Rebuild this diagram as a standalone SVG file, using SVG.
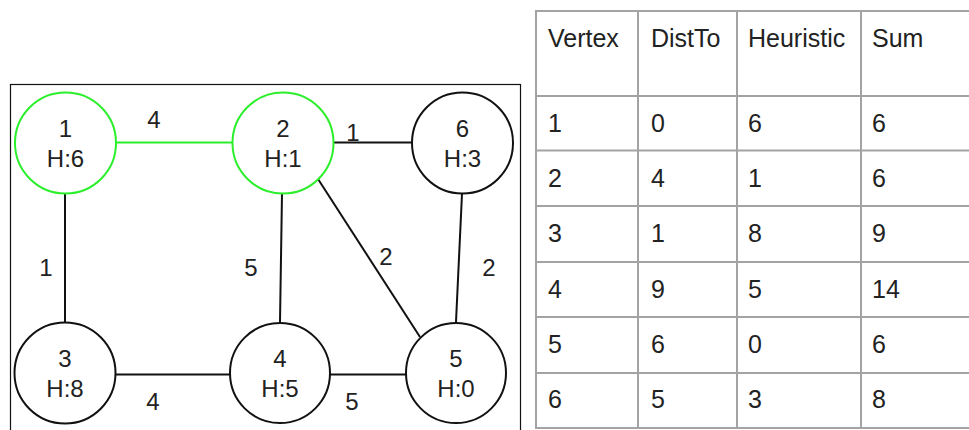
<svg xmlns="http://www.w3.org/2000/svg" width="969" height="430" viewBox="0 0 969 430">
  <style>
    .frame { fill: none; stroke: #111; stroke-width: 1.2; }
    .node circle { fill: #fff; stroke: #111; stroke-width: 2; }
    .node.visited circle { stroke: #2bef2b; }
    .edge { stroke: #111; stroke-width: 2; fill: none; }
    .edge.visited { stroke: #2bef2b; }
    text { font-family: "Liberation Sans", Arial, sans-serif; font-size: 24px; fill: #222; }
    .node text, .weight { text-anchor: middle; }
    #table text { font-size: 25px; }
    .grid line { stroke: #a3a3a3; stroke-width: 2; }
  </style>

  <!-- graph frame -->
  <rect class="frame" x="10.5" y="84.5" width="510" height="360"/>

  <!-- connectors -->
  <g id="edges">
    <line class="edge visited" x1="116" y1="142.5" x2="233" y2="142.5"/>
    <line class="edge" x1="333" y1="142.5" x2="412" y2="142.5"/>
    <line class="edge" x1="65" y1="194" x2="65" y2="322"/>
    <line class="edge" x1="282" y1="194" x2="280" y2="322"/>
    <line class="edge" x1="318" y1="179" x2="420" y2="337"/>
    <line class="edge" x1="462" y1="194" x2="456" y2="322"/>
    <line class="edge" x1="115" y1="374.5" x2="230" y2="374.5"/>
    <line class="edge" x1="330" y1="374.5" x2="406" y2="374.5"/>

    <text class="weight" x="154" y="128">4</text>
    <text class="weight" x="353" y="141">1</text>
    <text class="weight" x="46" y="276">1</text>
    <text class="weight" x="251" y="276">5</text>
    <text class="weight" x="386" y="265">2</text>
    <text class="weight" x="489" y="276">2</text>
    <text class="weight" x="153" y="410">4</text>
    <text class="weight" x="352" y="410">5</text>
  </g>

  <!-- vertices -->
  <g id="node-1" class="node visited">
    <circle cx="65.5" cy="143" r="50.5"/>
    <text x="65.5" y="137">1</text>
    <text x="65.5" y="167">H:6</text>
  </g>
  <g id="node-2" class="node visited">
    <circle cx="283" cy="143" r="50.5"/>
    <text x="283" y="137">2</text>
    <text x="283" y="167">H:1</text>
  </g>
  <g id="node-6" class="node">
    <circle cx="462.5" cy="143" r="50.5"/>
    <text x="462.5" y="137">6</text>
    <text x="462.5" y="167">H:3</text>
  </g>
  <g id="node-3" class="node">
    <circle cx="65" cy="373" r="50.5"/>
    <text x="65" y="367">3</text>
    <text x="65" y="397">H:8</text>
  </g>
  <g id="node-4" class="node">
    <circle cx="280" cy="373" r="50"/>
    <text x="280" y="367">4</text>
    <text x="280" y="397">H:5</text>
  </g>
  <g id="node-5" class="node">
    <circle cx="456" cy="373" r="50"/>
    <text x="456" y="367">5</text>
    <text x="456" y="397">H:0</text>
  </g>

  <!-- A* bookkeeping table -->
  <g id="table">
    <g class="grid">
      <line x1="535" y1="11" x2="975" y2="11"/>
      <line x1="535" y1="96" x2="975" y2="96"/>
      <line x1="535" y1="150.5" x2="975" y2="150.5"/>
      <line x1="535" y1="206" x2="975" y2="206"/>
      <line x1="535" y1="262" x2="975" y2="262"/>
      <line x1="535" y1="317" x2="975" y2="317"/>
      <line x1="535" y1="373" x2="975" y2="373"/>
      <line x1="535" y1="428" x2="975" y2="428"/>
      <line x1="536" y1="10" x2="536" y2="429"/>
      <line x1="638" y1="10" x2="638" y2="429"/>
      <line x1="737" y1="10" x2="737" y2="429"/>
      <line x1="861" y1="10" x2="861" y2="429"/>
    </g>
    <text x="548" y="47">Vertex</text>
    <text x="651" y="47">DistTo</text>
    <text x="748" y="47">Heuristic</text>
    <text x="872" y="47">Sum</text>

    <text x="548" y="132">1</text><text x="651" y="132">0</text><text x="748" y="132">6</text><text x="872" y="132">6</text>
    <text x="548" y="187">2</text><text x="651" y="187">4</text><text x="748" y="187">1</text><text x="872" y="187">6</text>
    <text x="548" y="242">3</text><text x="651" y="242">1</text><text x="748" y="242">8</text><text x="872" y="242">9</text>
    <text x="548" y="298">4</text><text x="651" y="298">9</text><text x="748" y="298">5</text><text x="872" y="298">14</text>
    <text x="548" y="353">5</text><text x="651" y="353">6</text><text x="748" y="353">0</text><text x="872" y="353">6</text>
    <text x="548" y="408">6</text><text x="651" y="408">5</text><text x="748" y="408">3</text><text x="872" y="408">8</text>
  </g>
</svg>
